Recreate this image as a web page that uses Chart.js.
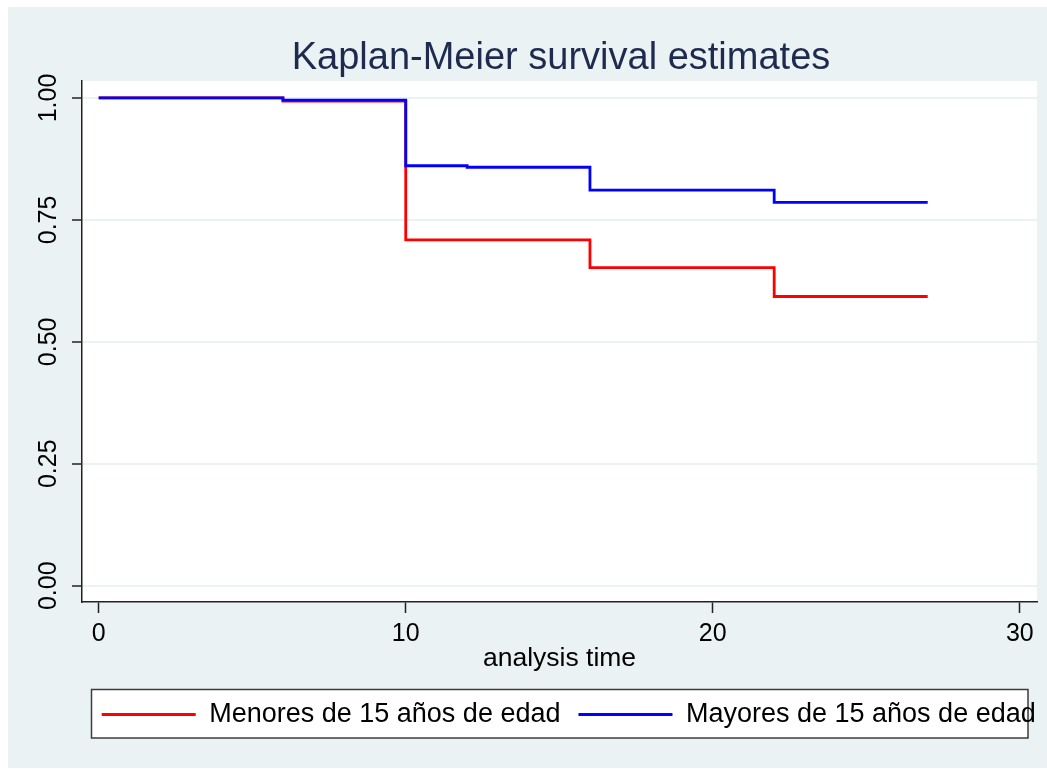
<!DOCTYPE html>
<html><head><meta charset="utf-8">
<script src="https://cdn.jsdelivr.net/npm/chart.js@4/dist/chart.umd.min.js"></script>
<style>html,body{margin:0;padding:0;background:#fff;overflow:hidden}canvas{display:block}</style>
</head><body>
<canvas id="c" width="1047" height="769"></canvas>
<script>
const timeMenores = [0, 5, 6, 10, 11, 12, 16, 17, 22, 27];
const survMenores = [1, 1, 0.9935, 0.709, 0.709, 0.709, 0.652, 0.652, 0.593, 0.593];
const timeMayores = [0, 5, 6, 10, 11, 12, 16, 17, 22, 27];
const survMayores = [1, 1, 0.9955, 0.861, 0.861, 0.858, 0.811, 0.811, 0.786, 0.786];
const seriesLabels = ['Menores de 15 años de edad', 'Mayores de 15 años de edad'];
const xTickValues = [0, 10, 20, 30];
const xTickLabels = ['0', '10', '20', '30'];
const yTickValues = [0, 0.25, 0.5, 0.75, 1];
const yTickLabels = ['0.00', '0.25', '0.50', '0.75', '1.00'];
const titleText = 'Kaplan-Meier survival estimates';
const xTitle = 'analysis time';

const FONT = '"Liberation Sans", Arial, Helvetica, sans-serif';

const toPoints = (ts, vs) => ts.map((t, i) => ({x: t, y: vs[i]}));

const stataFrame = {
  id: 'stataFrame',
  beforeDraw(chart) {
    const ctx = chart.ctx;
    const ca = chart.chartArea;
    ctx.save();
    ctx.fillStyle = '#ffffff';
    ctx.fillRect(0, 0, chart.width, chart.height);
    ctx.fillStyle = '#eaf2f3';
    ctx.fillRect(8, 7, chart.width - 8, chart.height - 8);
    ctx.fillStyle = '#ffffff';
    ctx.fillRect(ca.left, ca.top, ca.right - ca.left, ca.bottom - ca.top);
    // legend frame
    ctx.fillStyle = '#ffffff';
    ctx.fillRect(91, 689, 937, 49);
    ctx.strokeStyle = '#3c3c3c';
    ctx.lineWidth = 1.5;
    ctx.strokeRect(91.5, 689.5, 936.5, 48.5);
    ctx.restore();
    // position legend items
    const lg = chart.legend;
    if (lg && lg.lineWidths) {
      const pad = lg.options.labels.padding;
      const cur = (lg.left + pad + lg.right - lg.lineWidths[0]) / 2;
      const d = 101.7 - cur;
      lg.left += d; lg.right += d;
      lg.top = 683;
    }
    const tb = chart.titleBlock;
    if (tb) {
      const c = (tb.left + tb.right) / 2;
      const d = 561 - c;
      tb.left += d; tb.right += d;
    }
  }
};

new Chart(document.getElementById('c'), {
  type: 'line',
  data: {
    datasets: [
      {
        label: seriesLabels[0],
        data: toPoints(timeMenores, survMenores),
        borderColor: '#ff0000',
        backgroundColor: '#ff0000',
        borderWidth: 2.8,
        stepped: 'before',
        pointRadius: 0,
        borderJoinStyle: 'miter',
        borderCapStyle: 'butt',
        fill: false,
        order: 1
      },
      {
        label: seriesLabels[1],
        data: toPoints(timeMayores, survMayores),
        borderColor: '#0000ff',
        backgroundColor: '#0000ff',
        borderWidth: 2.8,
        stepped: 'before',
        pointRadius: 0,
        borderJoinStyle: 'miter',
        borderCapStyle: 'butt',
        fill: false,
        order: 0
      }
    ]
  },
  options: {
    responsive: false,
    animation: false,
    devicePixelRatio: 1,
    layout: {padding: {top: 7, left: 0, right: 10, bottom: 0}},
    scales: {
      x: {
        type: 'linear',
        min: -0.544,
        max: 30.56,
        afterBuildTicks: s => { s.ticks = xTickValues.map(v => ({value: v})); },
        afterFit: s => { s.height = 166; },
        ticks: {
          callback: (v, i) => xTickLabels[i],
          font: {family: FONT, size: 25},
          color: '#000',
          padding: 6,
          maxRotation: 0,
          minRotation: 0,
          autoSkip: false
        },
        grid: {drawOnChartArea: false, drawTicks: true, tickLength: 11, tickColor: '#222', tickWidth: 1.5},
        border: {display: true, color: '#222', width: 1.5},
        title: {
          display: true,
          text: xTitle,
          font: {family: FONT, size: 26.5},
          color: '#000',
          padding: {top: 0, bottom: 93}
        }
      },
      y: {
        type: 'linear',
        min: -0.0334,
        max: 1.0348,
        afterBuildTicks: s => { s.ticks = yTickValues.map(v => ({value: v})); },
        afterFit: s => { s.width = 82; },
        ticks: {
          callback: (v, i) => yTickLabels[i],
          font: {family: FONT, size: 25},
          color: '#000',
          padding: -1,
          minRotation: 90,
          maxRotation: 90,
          crossAlign: 'center',
          autoSkip: false
        },
        grid: {color: '#eaf2f3', lineWidth: 2, drawTicks: true, tickLength: 10, tickColor: '#222', tickWidth: 1.5},
        border: {display: true, color: '#222', width: 1.5}
      }
    },
    plugins: {
      title: {
        display: true,
        text: titleText,
        font: {family: FONT, size: 38, weight: 'normal'},
        color: '#1e2b4f',
        padding: {top: 28.4, bottom: 0}
      },
      legend: {
        display: true,
        position: 'bottom',
        maxHeight: 1,
        labels: {
          usePointStyle: true,
          pointStyle: 'line',
          pointStyleWidth: 94,
          padding: 18,
          color: '#000',
          font: {family: FONT, size: 27},
          sort: (a, b) => a.datasetIndex - b.datasetIndex
        }
      },
      tooltip: {enabled: false}
    }
  },
  plugins: [stataFrame]
});
</script>
</body></html>
